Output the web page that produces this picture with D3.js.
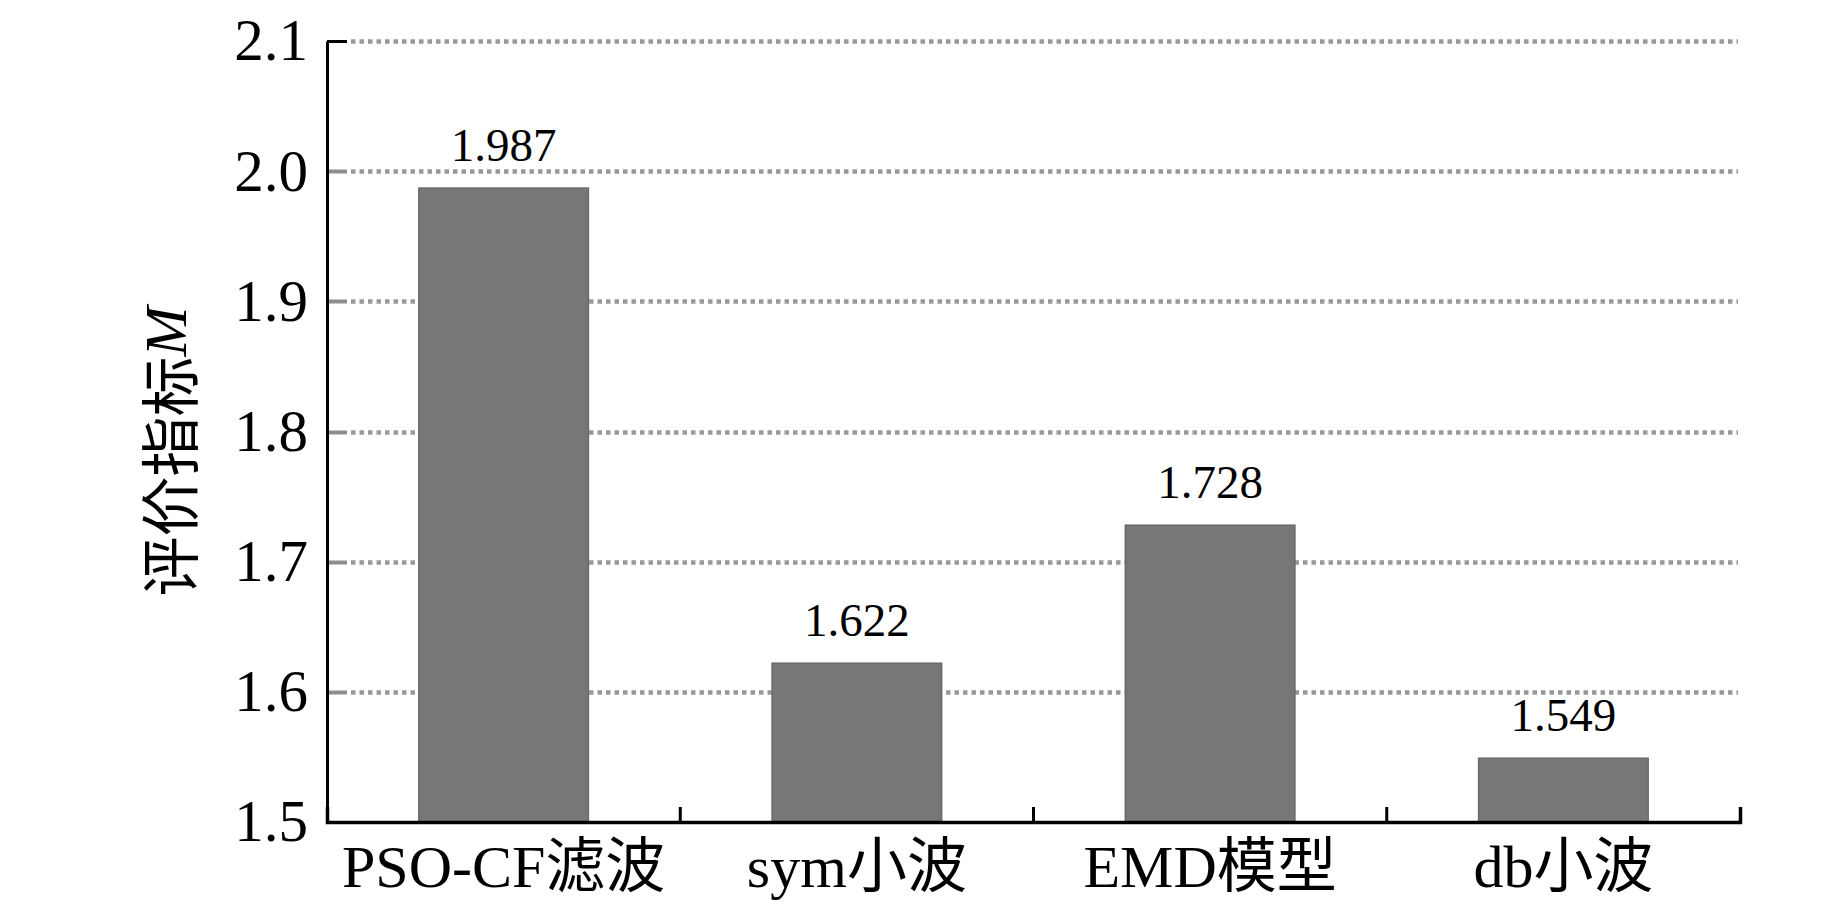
<!DOCTYPE html>
<html>
<head>
<meta charset="utf-8">
<script src="https://cdn.jsdelivr.net/npm/d3@7"></script>
<style>
  html, body { margin: 0; padding: 0; background: #fff; }
  svg { display: block; }
</style>
</head>
<body>
<svg id="chart" width="1843" height="910"></svg>
<script>
const categories = ["PSO-CF滤波", "sym小波", "EMD模型", "db小波"];
const values = [1.987, 1.622, 1.728, 1.549];
const valueLabels = ["1.987", "1.622", "1.728", "1.549"];
const yTicks = [1.5, 1.6, 1.7, 1.8, 1.9, 2.0, 2.1];
const yTickLabels = ["1.5", "1.6", "1.7", "1.8", "1.9", "2.0", "2.1"];
const yTitle = "评价指标";
const yTitleVar = "M";

const SERIF = "'Liberation Serif', 'Times New Roman', 'Noto Sans CJK SC', serif";

const svg = d3.select("#chart");
const mLeft = 327, mRight = 1740, mTop = 41, mBottom = 822;

const y = d3.scaleLinear().domain([1.5, 2.1]).range([mBottom, mTop]);
const x = d3.scaleBand().domain(categories).range([mLeft, mRight])
  .paddingInner(0.52).paddingOuter(0.26);
const step = x.step();

// grid lines (dotted) for ticks above baseline
const grid = svg.append("g");
yTicks.filter(t => t > 1.5).forEach((t) => {
  const yy = Math.round(y(t)) + 0.5;
  const isTop = t === 2.1;
  grid.append("line")
    .attr("x1", mLeft).attr("x2", mLeft + 20)
    .attr("y1", yy).attr("y2", yy)
    .attr("stroke", isTop ? "#000" : "#8e8e8e")
    .attr("stroke-width", isTop ? 3 : 4);
  grid.append("line")
    .attr("x1", mLeft + 24).attr("x2", mRight - 2)
    .attr("y1", yy).attr("y2", yy)
    .attr("stroke", "#999999")
    .attr("stroke-width", 4.5)
    .attr("stroke-dasharray", "4.5 4");
});

// bars
svg.append("g").selectAll("rect")
  .data(values)
  .join("rect")
  .attr("x", (d, i) => x(categories[i]))
  .attr("width", x.bandwidth())
  .attr("y", d => y(d))
  .attr("height", d => y(1.5) - y(d))
  .attr("fill", "#777777")
  .attr("stroke", "#6a6a6a")
  .attr("stroke-width", 1.5);

// value labels
svg.append("g").selectAll("text")
  .data(values)
  .join("text")
  .attr("x", (d, i) => x(categories[i]) + x.bandwidth() / 2)
  .attr("y", d => y(d) - 27)
  .attr("text-anchor", "middle")
  .style("font-family", SERIF)
  .style("font-size", "47px")
  .attr("fill", "#000")
  .text((d, i) => valueLabels[i]);

// y axis
const yAxis = d3.axisLeft(y)
  .tickValues(yTicks)
  .tickFormat((d, i) => yTickLabels[i])
  .tickSizeInner(0)
  .tickSizeOuter(0)
  .tickPadding(19);
const gy = svg.append("g").attr("transform", `translate(${mLeft},0)`).call(yAxis);
gy.select(".domain").attr("stroke", "#000").attr("stroke-width", 3);
gy.selectAll("text")
  .style("font-family", SERIF)
  .style("font-size", "59px")
  .attr("fill", "#000");

// x axis
const xAxis = d3.axisBottom(x).tickSizeInner(0).tickSizeOuter(-15).tickPadding(20);
const gx = svg.append("g").attr("transform", `translate(0,${mBottom})`).call(xAxis);
gx.select(".domain").attr("stroke", "#000").attr("stroke-width", 3.5);
gx.selectAll("text")
  .style("font-family", SERIF)
  .style("font-size", "60px")
  .attr("fill", "#000")
  .attr("dy", "0.75em");

// boundary ticks between categories
svg.append("g").selectAll("line")
  .data(categories.slice(1))
  .join("line")
  .attr("x1", d => x(d) - step * x.paddingInner() / 2)
  .attr("x2", d => x(d) - step * x.paddingInner() / 2)
  .attr("y1", mBottom)
  .attr("y2", mBottom - 15)
  .attr("stroke", "#000")
  .attr("stroke-width", 3);

// y title
const title = svg.append("text")
  .attr("transform", `translate(166,${(mTop + mBottom) / 2 + 20}) rotate(-90)`)
  .attr("text-anchor", "middle")
  .attr("dominant-baseline", "central")
  .style("font-family", SERIF)
  .style("font-size", "60px")
  .attr("fill", "#000");
title.append("tspan").style("font-family", "'Noto Sans CJK SC', sans-serif").text(yTitle);
title.append("tspan").style("font-style", "italic").text(yTitleVar);
</script>
</body>
</html>
